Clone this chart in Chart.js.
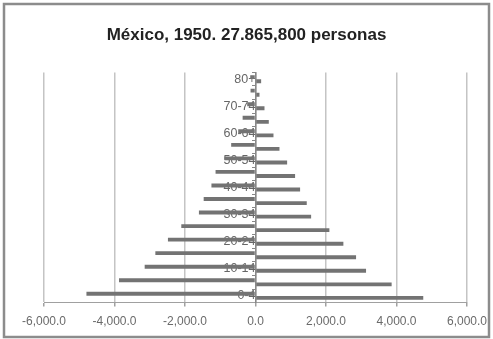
<!DOCTYPE html>
<html>
<head>
<meta charset="utf-8">
<script src="https://cdn.jsdelivr.net/npm/chart.js@4/dist/chart.umd.min.js"></script>
<style>
  html, body { margin: 0; padding: 0; background: #ffffff; }
  #wrap { position: absolute; left: 0; top: 0; width: 493px; height: 339px; }
</style>
</head>
<body>
<div id="wrap"><canvas id="c" width="493" height="339"></canvas></div>
<script>
// Age groups (bottom to top)
const categories = ['0-4','5-9','10-14','15-19','20-24','25-29','30-34','35-39','40-44','45-49','50-54','55-59','60-64','65-69','70-74','75-79','80+'];
// Left side (negative) series
const leftValues = [-4796, -3872, -3144, -2841, -2484, -2105, -1605, -1470, -1250, -1133, -880, -690, -490, -365, -235, -140, -150];
// Right side (positive) series
const rightValues = [4759, 3862, 3136, 2853, 2493, 2096, 1578, 1454, 1265, 1123, 897, 680, 510, 377, 255, 113, 160];
// X axis ticks
const xTicks = [-6000, -4000, -2000, 0, 2000, 4000, 6000];
const titleText = 'México, 1950. 27.865,800 personas';

const framePlugin = {
  id: 'frame',
  beforeDraw(chart) {
    const ctx = chart.ctx;
    ctx.save();
    ctx.fillStyle = '#ffffff';
    ctx.fillRect(0, 0, chart.width, chart.height);
    ctx.strokeStyle = '#8c8c8c';
    ctx.lineWidth = 2.5;
    ctx.strokeRect(4, 4, chart.width - 8, chart.height - 6);
    ctx.restore();
  }
};

new Chart(document.getElementById('c'), {
  type: 'bar',
  data: {
    labels: categories,
    datasets: [
      { data: leftValues, backgroundColor: '#737373', categoryPercentage: 0.6, barPercentage: 0.95 },
      { data: rightValues, backgroundColor: '#737373', categoryPercentage: 0.6, barPercentage: 0.95 }
    ]
  },
  options: {
    indexAxis: 'y',
    responsive: false,
    animation: false,
    layout: { padding: { left: 0, right: 0, top: 0, bottom: 2 } },
    plugins: {
      legend: { display: false },
      tooltip: { enabled: false },
      title: {
        display: true,
        text: titleText,
        color: '#222222',
        font: { family: 'Liberation Sans', size: 17, weight: 'bold' },
        padding: { top: 25, bottom: 27 }
      }
    },
    scales: {
      x: {
        min: -6000,
        max: 6000,
        afterBuildTicks(scale) { scale.ticks = xTicks.map(v => ({ value: v })); },
        afterFit(scale) { scale.paddingLeft = 44; scale.paddingRight = 26; },
        ticks: {
          color: '#6a6a6a',
          font: { family: 'Liberation Sans', size: 12 },
          padding: 8,
          maxRotation: 0,
          callback: v => Number(v).toLocaleString('en-US', { minimumFractionDigits: 1, maximumFractionDigits: 1 })
        },
        grid: { color: '#c4c4c4', lineWidth: 1.5, tickLength: 4, drawTicks: true, tickColor: '#a0a0a0' },
        border: { color: '#a0a0a0', width: 1 }
      },
      y: {
        position: { x: 0 },
        reverse: true,
        ticks: {
          autoSkip: false,
          color: '#666666',
          font: { family: 'Liberation Sans', size: 12.5 },
          padding: 3,
          callback: function(value, index) { return index % 2 === 0 ? categories[index] : ''; }
        },
        grid: { drawOnChartArea: false, drawTicks: true, tickLength: 3, color: '#888888' },
        border: { color: '#888888', width: 1.5 }
      }
    }
  },
  plugins: [framePlugin]
});
</script>
</body>
</html>
